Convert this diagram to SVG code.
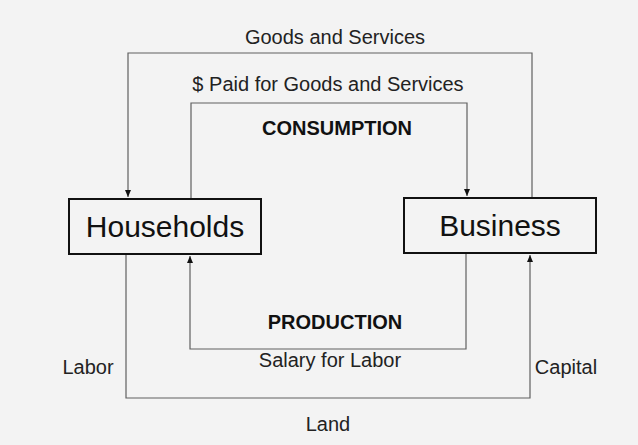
<svg xmlns="http://www.w3.org/2000/svg" width="638" height="445" viewBox="0 0 638 445">
<defs>
<marker id="ah" markerWidth="8" markerHeight="8" refX="7" refY="4" orient="auto" markerUnits="userSpaceOnUse">
<path d="M0,1 L7,4 L0,7 Z" fill="#111"/>
</marker>
<style>
.ln{fill:none;stroke:#606060;stroke-width:1.2}
.box{fill:none;stroke:#111;stroke-width:2}
.lbl{font-family:"Liberation Sans",Arial,sans-serif;font-size:20px;fill:#222;text-anchor:middle}
.bold{font-family:"Liberation Sans",Arial,sans-serif;font-size:20px;font-weight:bold;fill:#111;text-anchor:middle}
.node{font-family:"Liberation Sans",Arial,sans-serif;font-size:30px;fill:#111;text-anchor:middle}
</style>
</defs>
<rect width="638" height="445" fill="#f3f3f3"/>
<g id="connectors">
<path class="ln" d="M532,198 V53 H128 V197" marker-end="url(#ah)"/>
<path class="ln" d="M191,199 V103 H467 V196" marker-end="url(#ah)"/>
<path class="ln" d="M466,254 V349 H190 V256" marker-end="url(#ah)"/>
<path class="ln" d="M126,255 V398 H530 V255" marker-end="url(#ah)"/>
</g>
<g id="households">
<rect class="box" x="69" y="199" width="192" height="55"/>
<text class="node" x="165" y="237">Households</text>
</g>
<g id="business">
<rect class="box" x="404" y="198" width="192" height="55"/>
<text class="node" x="500" y="236">Business</text>
</g>
<g id="labels">
<text class="lbl" x="335" y="44">Goods and Services</text>
<text class="lbl" x="328" y="91">$ Paid for Goods and Services</text>
<text class="bold" x="337" y="135">CONSUMPTION</text>
<text class="bold" x="335" y="329">PRODUCTION</text>
<text class="lbl" x="330" y="367">Salary for Labor</text>
<text class="lbl" x="88" y="374">Labor</text>
<text class="lbl" x="566" y="374">Capital</text>
<text class="lbl" x="328" y="431">Land</text>
</g>
</svg>
